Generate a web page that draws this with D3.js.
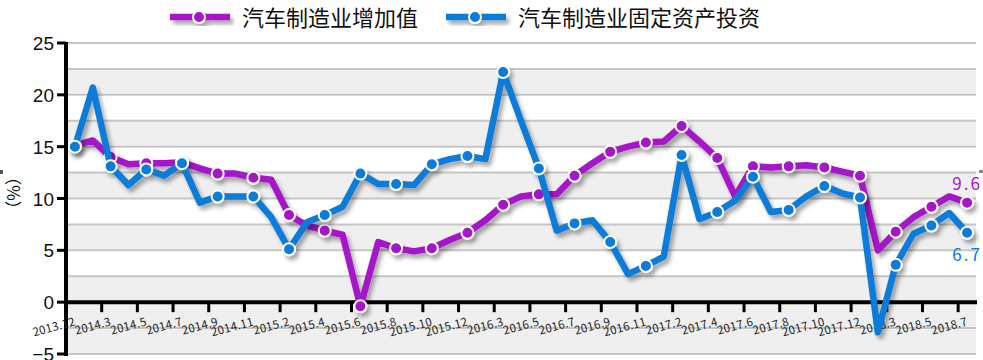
<!DOCTYPE html>
<html lang="zh">
<head>
    <meta charset="utf-8" />
    <title>汽车制造业增加值与固定资产投资</title>
    <script type="text/javascript" src="https://d3js.org/d3.v7.min.js"></script>
    <style>
        body { margin: 0; background: #fff; }
        text { font-family: "Noto Sans CJK SC", sans-serif; }
    </style>
</head>
<body>
    <script type="text/javascript">

        var w = 983;
        var h = 360;

        var months = ["2013.12",
            "2014.2", "2014.3", "2014.4", "2014.5", "2014.6", "2014.7", "2014.8", "2014.9", "2014.10", "2014.11", "2014.12",
            "2015.2", "2015.3", "2015.4", "2015.5", "2015.6", "2015.7", "2015.8", "2015.9", "2015.10", "2015.11", "2015.12",
            "2016.2", "2016.3", "2016.4", "2016.5", "2016.6", "2016.7", "2016.8", "2016.9", "2016.10", "2016.11", "2016.12",
            "2017.2", "2017.3", "2017.4", "2017.5", "2017.6", "2017.7", "2017.8", "2017.9", "2017.10", "2017.11", "2017.12",
            "2018.2", "2018.3", "2018.4", "2018.5", "2018.6", "2018.7"];

        // 汽车制造业增加值 (%)
        var addedValue = [15.1,
            15.6, 14.0, 13.3, 13.4, 13.4, 13.5, 12.9, 12.4, 12.4, 12.0, 11.8,
            8.4, 7.4, 6.9, 6.5, -0.4, 5.8, 5.2, 4.9, 5.2, 6.0, 6.7,
            7.9, 9.4, 10.2, 10.4, 10.4, 12.2, 13.4, 14.5, 15.0, 15.4, 15.5,
            17.0, 15.5, 13.9, 10.2, 13.1, 13.0, 13.1, 13.2, 13.0, 12.6, 12.2,
            5.0, 6.8, 8.2, 9.2, 10.2, 9.6];

        // 汽车制造业固定资产投资 (%)
        var investment = [15.0,
            20.7, 13.1, 11.3, 12.8, 12.2, 13.4, 9.6, 10.2, 10.2, 10.2, 8.2,
            5.1, 7.7, 8.4, 9.2, 12.4, 11.4, 11.4, 11.3, 13.3, 13.8, 14.1,
            13.8, 22.2, 17.5, 12.9, 6.9, 7.6, 7.9, 5.8, 2.7, 3.5, 4.4,
            14.2, 8.0, 8.7, 9.8, 12.1, 8.7, 8.9, 10.2, 11.2, 10.5, 10.1,
            -2.9, 3.6, 6.6, 7.4, 8.6, 6.7];

        var seriesNames = ["汽车制造业增加值", "汽车制造业固定资产投资"];
        var seriesColors = ["#a514c9", "#0a7bd9"];
        var endLabels = ["9.6", "6.7"];
        var yTicks = [-5, 0, 5, 10, 15, 20, 25];

        var svg = d3.select("body")
            .append("svg")
            .attr("width", w)
            .attr("height", h);

        var defs = svg.append("defs");
        defs.append("filter")
            .attr("id", "shadow")
            .attr("x", "-20%").attr("y", "-20%")
            .attr("width", "140%").attr("height", "140%")
            .append("feDropShadow")
            .attr("dx", 3)
            .attr("dy", 4)
            .attr("stdDeviation", 2)
            .attr("flood-color", "#000")
            .attr("flood-opacity", 0.35);

        var xScale = d3.scaleBand()
            .domain(d3.range(months.length))
            .range([66, 976]);

        var yScale = d3.scaleLinear()
            .domain([-5, 25])
            .range([354, 43]);

        // background bands and grid lines
        var bandStops = d3.range(25, -5, -2.5);
        svg.selectAll("rect.band")
            .data(bandStops)
            .enter()
            .append("rect")
            .attr("class", "band")
            .attr("x", 66)
            .attr("y", function (d) { return yScale(d); })
            .attr("width", 910)
            .attr("height", function (d) { return yScale(d - 2.5) - yScale(d); })
            .attr("fill", function (d, i) {
                return (i % 2 === 1 || d <= 0) ? "#efefef" : "#ffffff";
            });

        svg.selectAll("line.grid")
            .data(d3.range(-5, 25.1, 2.5).filter(function (d) { return d !== 0; }))
            .enter()
            .append("line")
            .attr("class", "grid")
            .attr("x1", 66)
            .attr("x2", 976)
            .attr("y1", function (d) { return yScale(d); })
            .attr("y2", function (d) { return yScale(d); })
            .attr("stroke", "#c6c6c6")
            .attr("stroke-width", 2);

        // y axis
        svg.append("line")
            .attr("x1", 66).attr("x2", 66)
            .attr("y1", yScale(25) - 1).attr("y2", yScale(-5) + 2)
            .attr("stroke", "#000").attr("stroke-width", 4);

        svg.selectAll("line.ytick")
            .data(yTicks)
            .enter()
            .append("line")
            .attr("class", "ytick")
            .attr("x1", 57).attr("x2", 66)
            .attr("y1", function (d) { return yScale(d); })
            .attr("y2", function (d) { return yScale(d); })
            .attr("stroke", "#000").attr("stroke-width", 3);

        svg.selectAll("text.ylab")
            .data(yTicks)
            .enter()
            .append("text")
            .attr("class", "ylab")
            .attr("x", 54)
            .attr("y", function (d) { return yScale(d) + 7; })
            .attr("text-anchor", "end")
            .style("font-family", "'Liberation Sans', Arial, sans-serif")
            .attr("font-size", "19px")
            .attr("fill", "#111")
            .text(function (d) { return d3.format("d")(d); });

        svg.append("text")
            .attr("transform", "translate(20,193) rotate(-90)")
            .attr("text-anchor", "middle")
            .attr("font-size", "17px")
            .attr("fill", "#111")
            .text("（%）");

        // x axis at zero
        svg.append("line")
            .attr("x1", 64).attr("x2", 977)
            .attr("y1", yScale(0)).attr("y2", yScale(0))
            .attr("stroke", "#000").attr("stroke-width", 4);

        var tickIdx = d3.range(0, months.length, 2);

        svg.selectAll("line.xtick")
            .data(tickIdx.filter(function (d) { return d > 0; }))
            .enter()
            .append("line")
            .attr("class", "xtick")
            .attr("x1", function (d) { return xScale(d); })
            .attr("x2", function (d) { return xScale(d); })
            .attr("y1", yScale(0))
            .attr("y2", yScale(0) + 10)
            .attr("stroke", "#000").attr("stroke-width", 3);

        svg.selectAll("text.xlab")
            .data(tickIdx)
            .enter()
            .append("text")
            .attr("class", "xlab")
            .attr("transform", function (d) {
                return "translate(" + (xScale(d) + 10) + "," + (yScale(0) + 23) + ") rotate(-15)";
            })
            .attr("text-anchor", "end")
            .attr("font-size", "11.5px")
            .attr("letter-spacing", "0.3px")
            .attr("fill", "#222")
            .text(function (d) { return months[d]; });

        // lines
        var seriesData = [addedValue, investment];

        var line = d3.line()
            .x(function (d, i) { return xScale(i) + xScale.bandwidth() / 2; })
            .y(function (d) { return yScale(d); });

        var groups = svg.selectAll("g.series")
            .data(seriesData)
            .enter()
            .append("g")
            .attr("class", "series")
            .attr("filter", "url(#shadow)");

        groups.append("path")
            .attr("d", function (d) { return line(d); })
            .attr("fill", "none")
            .attr("stroke", function (d, i) { return seriesColors[i]; })
            .attr("stroke-width", 6.5)
            .attr("stroke-linejoin", "round");

        groups.each(function (vals, s) {
            d3.select(this).selectAll("circle")
                .data(tickIdx)
                .enter()
                .append("circle")
                .attr("cx", function (i) { return xScale(i) + xScale.bandwidth() / 2; })
                .attr("cy", function (i) { return yScale(vals[i]); })
                .attr("r", 6)
                .attr("fill", seriesColors[s])
                .attr("stroke", "#fff")
                .attr("stroke-width", 2);
        });

        // end labels
        var last = months.length - 1;
        svg.selectAll("text.endlab")
            .data(endLabels)
            .enter()
            .append("text")
            .attr("class", "endlab")
            .attr("x", xScale(last) + xScale.bandwidth() / 2)
            .attr("y", function (d, i) {
                return i === 0 ? yScale(seriesData[i][last]) - 13 : yScale(seriesData[i][last]) + 28;
            })
            .attr("text-anchor", "middle")
            .attr("font-size", "17px")
            .attr("letter-spacing", "2px")
            .attr("fill", function (d, i) { return seriesColors[i]; })
            .text(function (d) { return d; });

        // legend
        var legendX = [170, 446];
        var legend = svg.selectAll("g.legend")
            .data(seriesNames)
            .enter()
            .append("g")
            .attr("class", "legend")
            .attr("transform", function (d, i) { return "translate(" + legendX[i] + ",17)"; });

        legend.append("g")
            .attr("filter", "url(#shadow)")
            .each(function (d, i) {
                var g = d3.select(this);
                g.append("line")
                    .attr("x1", 0).attr("x2", 60)
                    .attr("y1", 0).attr("y2", 0)
                    .attr("stroke", seriesColors[i])
                    .attr("stroke-width", 6.5);
                g.append("circle")
                    .attr("cx", 29).attr("cy", 0).attr("r", 6)
                    .attr("fill", seriesColors[i])
                    .attr("stroke", "#fff").attr("stroke-width", 2);
            });

        legend.append("text")
            .attr("x", 72)
            .attr("y", 9)
            .attr("font-size", "22px")
            .attr("fill", "#111")
            .text(function (d) { return d; });

        // small frame handles cut at the edges
        svg.append("rect").attr("x", 0).attr("y", 170).attr("width", 3).attr("height", 4).attr("fill", "#555");
        svg.append("rect").attr("x", 979).attr("y", 170).attr("width", 4).attr("height", 3).attr("fill", "#888");

    </script>
</body>
</html>
